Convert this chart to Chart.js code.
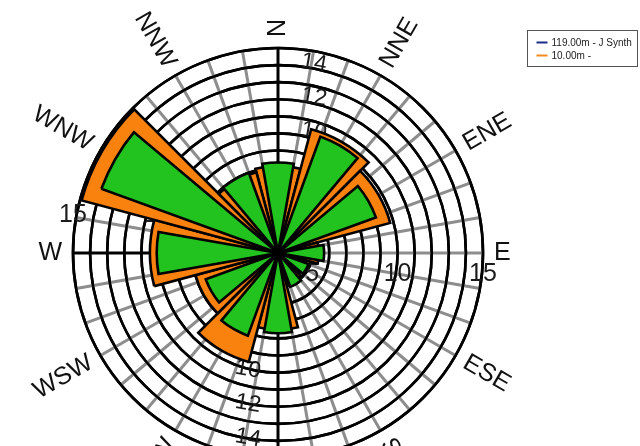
<!DOCTYPE html>
<html>
<head>
<meta charset="utf-8">
<script src="https://cdn.jsdelivr.net/npm/chart.js@4/dist/chart.umd.min.js"></script>
<style>
  html, body { margin: 0; padding: 0; background: #fff; overflow: hidden; }
  #wrap { position: relative; width: 640px; height: 446px; overflow: hidden; }
  canvas { display: block; }
</style>
</head>
<body>
<div id="wrap"><canvas id="rose" width="640" height="470" style="width:640px;height:470px"></canvas></div>
<script>
// Wind rose: mean wind speed per 30° direction sector at two heights
const directionNames = ['N', 'NNE', 'ENE', 'E', 'ESE', 'SSE', 'S', 'SSW', 'WSW', 'W', 'WNW', 'NNW'];
const synthSpeeds    = [8.3, 10.25, 9.1, 5.7, 4.9, 5.1, 7.7, 8.15, 7.5, 10.1, 14.0, 8.0];   // 119.00m - J Synth
const measuredSpeeds = [8.1, 10.5, 9.8, 5.4, 4.7, 4.9, 7.5, 9.6, 8.0, 10.5, 14.9, 7.9];    // 10.00m
const seriesNames    = ['119.00m - J Synth', '10.00m -'];

// radial axis range and ring annotations
const ringMin = 3;
const ringMax = 15;
const ringLabelsNorth = [10, 12, 14];
const ringLabelsSouth = [10, 12, 14];
const ringLabelsEast  = [5, 10, 15];
const ringLabelsWest  = [5, 10, 15];

// styling
const SECTOR = 30;              // degrees per direction
const SYNTH_WIDTH = 20;         // drawn width of the 119 m wedges
const MEAS_WIDTH = 30;          // drawn width of the 10 m wedges
const START = -15;              // arcs are laid out clockwise from here
const GREEN = '#22c31f';
const ORANGE = '#f9820f';
const LEGEND_COLORS = ['#1d2c86', '#f58a1f'];
const FONT = '"Liberation Sans", Arial, sans-serif';

// Build the per-arc value / angle lists for a polar-area dataset so that
// sector i is centred on i*30° with the given width, starting at START.
function buildArcs(values, width) {
  const data = [], angles = [], gap = [];
  const push = (v, a, g) => { if (a > 0) { data.push(v); angles.push(a); gap.push(g); } };
  let cursor = START;
  values.forEach((v, i) => {
    const from = i * SECTOR - width / 2;
    push(ringMin, from - cursor, true);
    push(v, width, false);
    cursor = from + width;
  });
  push(ringMin, START + 360 - cursor, true);
  return { data, angles, gap };
}

const synthArcs = buildArcs(synthSpeeds, SYNTH_WIDTH);
const measArcs = buildArcs(measuredSpeeds, MEAS_WIDTH);

// one spoke every 5°, starting at START; direction names on the 30° spokes
const spokeLabels = [];
for (let k = 0; k < 72; k++) {
  const a = ((START + 5 * k) % 360 + 360) % 360;
  spokeLabels.push(a % SECTOR === 0 ? directionNames[a / SECTOR] : '');
}
const spokeAngle = (k) => ((START + 5 * k) % 360 + 360) % 360;

function arcDataset(label, arcs, color) {
  return {
    label,
    data: arcs.data,
    angle: (ctx) => arcs.angles[ctx.dataIndex],
    backgroundColor: (ctx) => arcs.gap[ctx.dataIndex] ? 'rgba(0,0,0,0)' : color,
    borderColor: '#000',
    borderWidth: (ctx) => arcs.gap[ctx.dataIndex] ? 0 : 2.6,
    borderJoinStyle: 'miter'
  };
}

// rings redrawn above the spokes, ring annotations under the wedges
const ringPlugin = {
  id: 'ringPlugin',
  beforeDatasetsDraw(chart) {
    const s = chart.scales.r;
    const ctx = chart.ctx;
    ctx.save();
    ctx.strokeStyle = '#000';
    ctx.lineWidth = 2.6;
    s.ticks.forEach((t, i) => {
      if (i === 0) return;
      ctx.beginPath();
      ctx.arc(s.xCenter, s.yCenter, s.getDistanceFromCenterForValue(t.value), 0, Math.PI * 2);
      ctx.stroke();
    });
    ctx.fillStyle = '#1b1b1b';
    ctx.textAlign = 'center';
    ctx.textBaseline = 'middle';
    const put = (text, x, y, rot, size) => {
      ctx.save();
      ctx.translate(x, y);
      ctx.rotate(rot * Math.PI / 180);
      ctx.font = size + 'px ' + FONT;
      ctx.fillText(String(text), 0, 0);
      ctx.restore();
    };
    ringLabelsNorth.forEach(v => put(v, s.xCenter + 36, s.yCenter - s.getDistanceFromCenterForValue(v) - 2, 10, 23));
    ringLabelsSouth.forEach(v => put(v, s.xCenter - 30, s.yCenter + s.getDistanceFromCenterForValue(v) - 3, 10, 23));
    ringLabelsEast.forEach(v => put(v, s.xCenter + s.getDistanceFromCenterForValue(v), s.yCenter + 21, 0, 25));
    ringLabelsWest.forEach(v => put(v, s.xCenter - s.getDistanceFromCenterForValue(v), s.yCenter - 38, 0, 25));
    ctx.restore();
  },
  afterDraw(chart) {
    const s = chart.scales.r;
    const ctx = chart.ctx;
    ctx.save();
    // compass names, written along their spokes
    ctx.fillStyle = '#111';
    ctx.font = '25px ' + FONT;
    ctx.textAlign = 'center';
    ctx.textBaseline = 'middle';
    spokeLabels.forEach((name, k) => {
      if (!name) return;
      const a = spokeAngle(k);
      let rot = a - 90;
      if (rot > 90) rot -= 180;
      if (rot < -90) rot += 180;
      const w = ctx.measureText(name).width;
      const p = s.getPointPosition(k, s.drawingArea + 11 + w / 2);
      ctx.save();
      ctx.translate(p.x, p.y);
      ctx.rotate(rot * Math.PI / 180);
      ctx.fillText(name, 0, 0);
      ctx.restore();
    });
    // legend box
    const bx = 527.5, by = 30.5, bw = 110, bh = 36;
    ctx.strokeStyle = '#555';
    ctx.lineWidth = 1;
    ctx.strokeRect(bx, by, bw, bh);
    ctx.font = '10px ' + FONT;
    ctx.textAlign = 'left';
    chart.data.datasets.forEach((d, i) => {
      const y = by + 12 + i * 13;
      ctx.strokeStyle = LEGEND_COLORS[i];
      ctx.lineWidth = 2;
      ctx.beginPath();
      ctx.moveTo(bx + 9, y);
      ctx.lineTo(bx + 20, y);
      ctx.stroke();
      ctx.fillStyle = '#222';
      ctx.fillText(d.label, bx + 24, y + 0.5);
    });
    ctx.restore();
  }
};

new Chart(document.getElementById('rose'), {
  type: 'polarArea',
  data: {
    labels: spokeLabels,
    datasets: [
      arcDataset(seriesNames[0], synthArcs, GREEN),
      arcDataset(seriesNames[1], measArcs, ORANGE)
    ]
  },
  options: {
    responsive: false,
    maintainAspectRatio: false,
    animation: false,
    events: [],
    layout: { padding: { left: 73, right: 157, top: 48, bottom: 12 } },
    plugins: { legend: { display: false }, tooltip: { enabled: false } },
    scales: {
      r: {
        min: ringMin,
        max: ringMax,
        beginAtZero: false,
        startAngle: START,
        ticks: { stepSize: 1, display: false },
        grid: { display: true, circular: true, color: '#000', lineWidth: 2.6 },
        angleLines: {
          display: true,
          color: (ctx) => {
            const a = spokeAngle(ctx.index);
            return (a === 0 || a === 180 || a === 270) ? '#000' : '#8d8d8d';
          },
          lineWidth: (ctx) => (spokeAngle(ctx.index) % 10 === 0 ? 3 : 0)
        },
        pointLabels: { display: false }
      }
    }
  },
  plugins: [ringPlugin]
});
</script>
</body>
</html>
